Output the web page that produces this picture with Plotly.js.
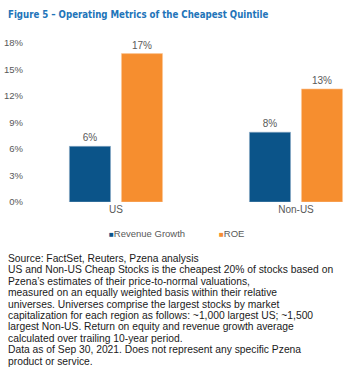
<!DOCTYPE html>
<html><head><meta charset="utf-8">
<script src="https://cdn.plot.ly/plotly-3.0.1.min.js"></script>
<style>html,body{margin:0;padding:0;background:#fff;}#chart{width:361px;height:379px;}</style>
</head><body><div id="chart"></div>
<script>
const categories = ['US', 'Non-US'];
const revenueGrowth = [6.3, 7.9];
const roe = [16.8, 12.8];
const seriesNames = ['Revenue Growth', 'ROE'];
const yTickVals = [0, 3, 6, 9, 12, 15, 18];
const yTickText = ['0%', '3%', '6%', '9%', '12%', '15%', '18%'];
const titleText = 'Figure 5 – Operating Metrics of the Cheapest Quintile';
const noteLines = [
  'Source: FactSet, Reuters, Pzena analysis',
  'US and Non-US Cheap Stocks is the cheapest 20% of stocks based on',
  'Pzena’s estimates of their price-to-normal valuations,',
  'measured on an equally weighted basis within their relative',
  'universes. Universes comprise the largest stocks by market',
  'capitalization for each region as follows: ~1,000 largest US; ~1,500',
  'largest Non-US. Return on equity and revenue growth average',
  'calculated over trailing 10-year period.',
  'Data as of Sep 30, 2021. Does not represent any specific Pzena',
  'product or service.'
];

const W = 361, H = 379;
const M = {l: 24, r: 6, t: 43, b: 177};
const plotW = W - M.l - M.r, plotH = H - M.t - M.b;
const px = x => (x - M.l) / plotW;
const py = y => (H - M.b - y) / plotH;

const blue = '#0b5489', orange = '#f68e2f', gray = '#595959';
const font = 'Liberation Sans, Arial, sans-serif';

const traces = [
  {type: 'bar', x: categories, y: revenueGrowth, name: seriesNames[0],
   marker: {color: blue, line: {color: '#8aa9c4', width: 0.6}},
   text: revenueGrowth.map(v => Math.round(v) + '%'), textposition: 'outside',
   textfont: {color: gray, size: 10, family: font}, cliponaxis: false, hoverinfo: 'none'},
  {type: 'bar', x: categories, y: roe, name: seriesNames[1],
   marker: {color: orange, line: {color: '#fbc89a', width: 0.6}},
   text: roe.map(v => Math.round(v) + '%'), textposition: 'outside',
   textfont: {color: gray, size: 10, family: font}, cliponaxis: false, hoverinfo: 'none'}
];

const annotations = [];
annotations.push({xref: 'paper', yref: 'paper', x: px(6), y: py(14), xanchor: 'left', yanchor: 'middle',
  text: '<b>' + titleText + '</b>', showarrow: false,
  font: {family: 'DejaVu Sans Condensed, sans-serif', size: 9.6, color: '#2274b9'}});
annotations.push({xref: 'paper', yref: 'paper', x: px(107), y: py(233), xanchor: 'left', yanchor: 'middle',
  text: '<span style="color:' + blue + ';font-size:8px">■</span>' + seriesNames[0], showarrow: false,
  font: {family: font, size: 9.5, color: gray}});
annotations.push({xref: 'paper', yref: 'paper', x: px(217), y: py(233), xanchor: 'left', yanchor: 'middle',
  text: '<span style="color:' + orange + ';font-size:8px">■</span>' + seriesNames[1], showarrow: false,
  font: {family: font, size: 9.5, color: gray}});
noteLines.forEach((t, i) => {
  annotations.push({xref: 'paper', yref: 'paper', x: px(6), y: py(258.5 + i * 11.4), xanchor: 'left', yanchor: 'middle',
    text: t, showarrow: false, font: {family: font, size: 10.3, color: '#1a1a1a'}});
});

const layout = {
  width: W, height: H, margin: M, paper_bgcolor: '#fff', plot_bgcolor: '#fff',
  showlegend: false, barmode: 'group', bargap: 0.422, bargroupgap: 0.21,
  font: {family: font, color: gray, size: 10},
  xaxis: {range: [-0.511, 1 + (W - M.r - 296) / 180], showgrid: false, zeroline: false, showline: false,
    ticks: '', tickfont: {size: 10, color: gray}, fixedrange: true},
  yaxis: {range: [0, 18], tickvals: yTickVals, ticktext: yTickText, showgrid: false, zeroline: false,
    showline: false, ticks: '', tickfont: {size: 9.5, color: gray}, fixedrange: true},
  annotations: annotations
};

Plotly.newPlot('chart', traces, layout, {displayModeBar: false, staticPlot: true});
</script></body></html>
